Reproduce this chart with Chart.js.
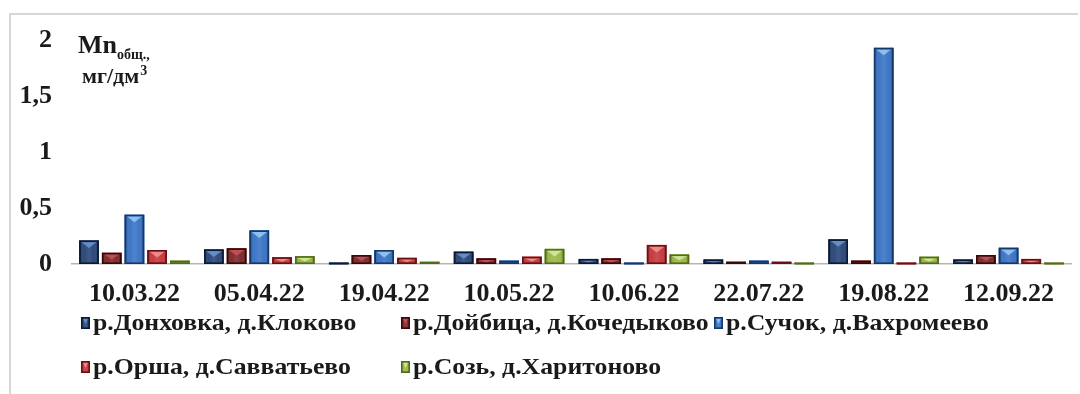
<!DOCTYPE html>
<html>
  <head>
    <meta charset="utf-8">
    <title>Mn общ.</title>
    <script src="https://cdn.jsdelivr.net/npm/chart.js"></script>
    <style>
      html, body { margin: 0; padding: 0; background: #fff; }
      #wrap { width: 1080px; height: 394px; position: relative; }
    </style>
  </head>
  <body>
    <div id="wrap"><canvas id="mnChart"></canvas></div>

    <script>
      // sampling dates
      const dates = ['10.03.22', '05.04.22', '19.04.22', '10.05.22', '10.06.22', '22.07.22', '19.08.22', '12.09.22'];

      // Mn total, mg/dm3, per site
      const donkhovka = [0.21, 0.13, 0.01, 0.11, 0.045, 0.04, 0.22, 0.04];
      const doybitsa  = [0.10, 0.14, 0.08, 0.05, 0.05, 0.02, 0.03, 0.08];
      const suchok    = [0.44, 0.30, 0.125, 0.03, 0.01, 0.03, 1.93, 0.145];
      const orsha     = [0.125, 0.06, 0.055, 0.065, 0.17, 0.02, 0.005, 0.045];
      const soz       = [0.03, 0.07, 0.02, 0.135, 0.085, 0.01, 0.065, 0.01];

      const siteNames = [
        'р.Донховка, д.Клоково',
        'р.Дойбица, д.Кочедыково',
        'р.Сучок, д.Вахромеево',
        'р.Орша, д.Савватьево',
        'р.Созь, д.Харитоново'
      ];

      const yTicks = [0, 0.5, 1, 1.5, 2];

      // fill / outline / highlight per series
      const palette = [
        { fill: '#1b3b70', edge: '#0a1a36', glow: '#6f9bd6' },
        { fill: '#761a1d', edge: '#3a080a', glow: '#c8585a' },
        { fill: '#2d6bc2', edge: '#14376c', glow: '#9fd0f5' },
        { fill: '#c42c2e', edge: '#6a1012', glow: '#f59a9a' },
        { fill: '#93b53a', edge: '#516b1a', glow: '#dcedaa' }
      ];

      const FONT = '"Liberation Serif", "Times New Roman", serif';

      // shaded block with a chevron highlight on top, like the bars
      function drawBlock(ctx, left, top, w, h, pal, withEdge) {
        ctx.save();
        ctx.fillStyle = pal.fill;
        ctx.fillRect(left, top, w, h);
        const g = ctx.createLinearGradient(left, 0, left + w, 0);
        g.addColorStop(0, 'rgba(0,0,0,0.35)');
        g.addColorStop(0.25, 'rgba(255,255,255,0.08)');
        g.addColorStop(0.5, 'rgba(255,255,255,0.16)');
        g.addColorStop(0.75, 'rgba(255,255,255,0.08)');
        g.addColorStop(1, 'rgba(0,0,0,0.35)');
        ctx.fillStyle = g;
        ctx.fillRect(left, top, w, h);
        if (h > 4) {
          const ch = Math.min(6, h * 0.45);
          ctx.fillStyle = pal.glow;
          ctx.globalAlpha = 0.8;
          ctx.beginPath();
          ctx.moveTo(left + 2, top + 1.5);
          ctx.lineTo(left + w - 2, top + 1.5);
          ctx.lineTo(left + w / 2, top + 1.5 + ch);
          ctx.closePath();
          ctx.fill();
          ctx.globalAlpha = 1;
        }
        if (withEdge) {
          ctx.strokeStyle = pal.edge;
          ctx.lineWidth = 1.6;
          ctx.strokeRect(left + 0.8, top + 0.8, w - 1.6, Math.max(h - 1.6, 0.5));
        }
        ctx.restore();
      }

      const barShine = {
        id: 'barShine',
        beforeDraw(chart) {
          const ctx = chart.ctx;
          ctx.save();
          ctx.fillStyle = '#fff';
          ctx.fillRect(0, 0, chart.width, chart.height);
          // outer frame
          ctx.strokeStyle = '#d6d6d6';
          ctx.lineWidth = 2;
          ctx.beginPath();
          ctx.moveTo(10, chart.height);
          ctx.lineTo(10, 14);
          ctx.lineTo(1078, 14);
          ctx.stroke();
          ctx.restore();
        },
        afterDatasetsDraw(chart) {
          const ctx = chart.ctx;
          chart.data.datasets.forEach((ds, i) => {
            const meta = chart.getDatasetMeta(i);
            meta.data.forEach(bar => {
              const p = bar.getProps(['x', 'y', 'base', 'width'], true);
              const h = p.base - p.y;
              if (h <= 0) return;
              const hh = Math.max(h, 1.5);
              drawBlock(ctx, p.x - p.width / 2, p.base - hh, p.width, hh, palette[i], true);
            });
          });
        },
        afterDraw(chart) {
          const ctx = chart.ctx;
          ctx.save();
          ctx.fillStyle = '#1a1a1a';
          ctx.textBaseline = 'alphabetic';

          // axis caption
          ctx.font = 'bold 26px ' + FONT;
          ctx.fillText('Mn', 78, 53);
          const mnW = ctx.measureText('Mn').width;
          ctx.font = 'bold 14px ' + FONT;
          ctx.fillText('общ.,', 78 + mnW, 59);
          ctx.font = 'bold 22px ' + FONT;
          ctx.fillText('мг/дм', 82, 83);
          const mgW = ctx.measureText('мг/дм').width;
          ctx.font = 'bold 14px ' + FONT;
          ctx.fillText('3', 82 + mgW + 1, 75);

          // legend, two rows
          const slots = [
            { x: 81, y: 323 }, { x: 401, y: 323 }, { x: 714, y: 323 },
            { x: 81, y: 367 }, { x: 401, y: 367 }
          ];
          ctx.font = 'bold 23px ' + FONT;
          ctx.textBaseline = 'middle';
          chart.data.datasets.forEach((ds, i) => {
            const s = slots[i];
            drawBlock(ctx, s.x, s.y - 6, 9, 12, palette[i], true);
            ctx.fillStyle = '#1a1a1a';
            ctx.save();
            ctx.translate(s.x + 12, s.y + 1);
            ctx.scale(1.12, 1);
            ctx.fillText(ds.label, 0, 0);
            ctx.restore();
          });
          ctx.restore();
        }
      };

      const series = [donkhovka, doybitsa, suchok, orsha, soz];

      const ctx = document.getElementById('mnChart').getContext('2d');
      const mnChart = new Chart(ctx, {
        type: 'bar',
        data: {
          labels: dates,
          datasets: series.map((vals, i) => ({
            label: siteNames[i],
            data: vals,
            backgroundColor: palette[i].fill,
            borderWidth: 0,
            barPercentage: 0.86,
            categoryPercentage: 0.91
          }))
        },
        options: {
          responsive: true,
          maintainAspectRatio: false,
          animation: false,
          layout: { padding: { left: 0, right: 9, top: 40, bottom: 90 } },
          plugins: {
            legend: { display: false },
            tooltip: { enabled: false }
          },
          scales: {
            x: {
              grid: { display: false, drawTicks: false },
              border: { display: true, color: '#b5b5b5', width: 1.5 },
              ticks: {
                color: '#1a1a1a',
                font: { family: FONT, size: 26, weight: 'bold' },
                padding: 15,
                maxRotation: 0
              },
              afterFit(scale) { scale.height = 40; }
            },
            y: {
              min: 0,
              max: 2,
              afterBuildTicks(scale) { scale.ticks = yTicks.map(v => ({ value: v })); },
              grid: { display: false, drawTicks: false },
              border: { display: false },
              ticks: {
                color: '#1a1a1a',
                font: { family: FONT, size: 26, weight: 'bold' },
                padding: 20,
                callback: v => String(v).replace('.', ',')
              },
              afterFit(scale) { scale.width = 72; }
            }
          }
        },
        plugins: [barShine]
      });
    </script>
  </body>
</html>
